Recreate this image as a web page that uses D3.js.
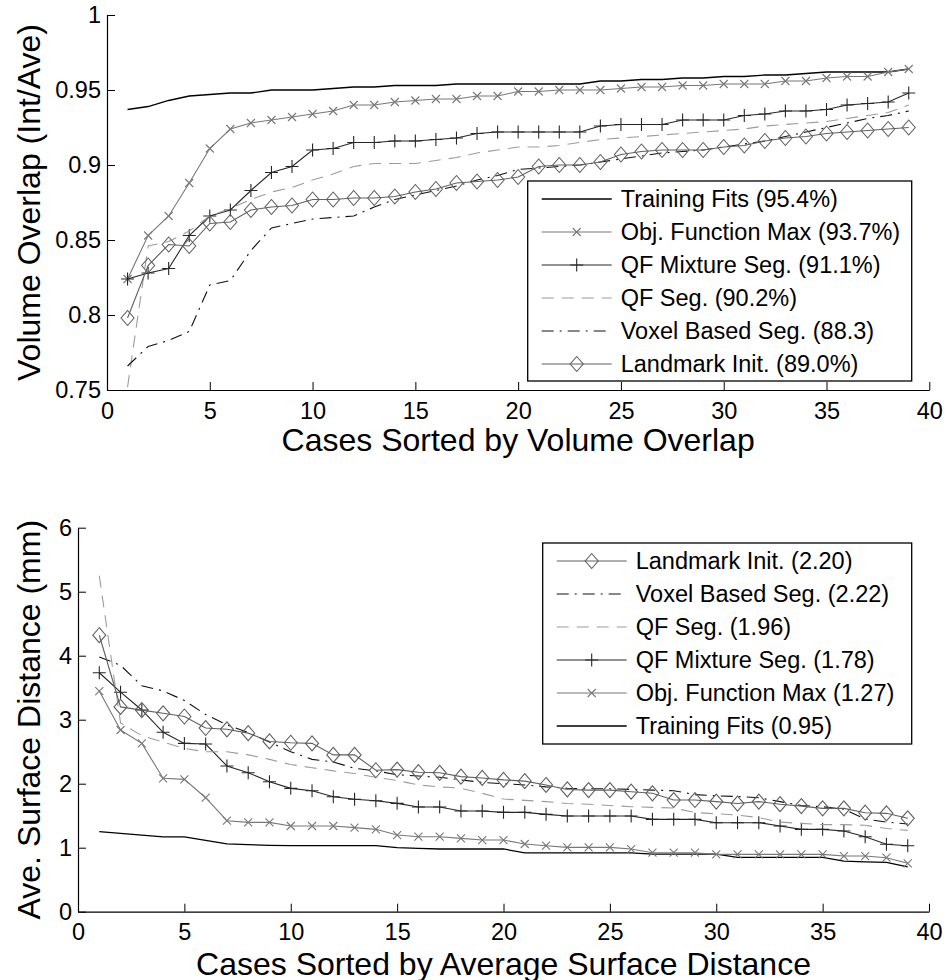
<!DOCTYPE html>
<html>
<head>
<meta charset="utf-8">
<script src="https://cdn.jsdelivr.net/npm/d3@7"></script>
<style>
  body { margin: 0; background: #fff; }
  text { font-family: "Liberation Sans", Arial, sans-serif; fill: #000; }
</style>
</head>
<body>
<svg id="chart" width="945" height="980"></svg>
<script>
// ---- case index (x axis) ----
const caseIndex = [1,2,3,4,5,6,7,8,9,10,11,12,13,14,15,16,17,18,19,20,
  21,22,23,24,25,26,27,28,29,30,31,32,33,34,35,36,37,38,39];

// ---- volume overlap (Int/Ave), cases sorted ----
const overlapTraining = [0.937,0.939,0.943,0.946,0.947,0.948,0.948,0.950,0.950,0.950,
  0.951,0.952,0.952,0.953,0.953,0.953,0.954,0.954,0.954,0.954,
  0.954,0.954,0.954,0.956,0.956,0.957,0.957,0.958,0.958,0.959,
  0.959,0.960,0.960,0.961,0.962,0.962,0.962,0.962,0.964];
const overlapObjMax = [0.824,0.853,0.866,0.888,0.911,0.924,0.928,0.930,0.932,0.934,
  0.936,0.940,0.940,0.942,0.943,0.944,0.944,0.946,0.946,0.949,
  0.949,0.950,0.950,0.950,0.951,0.952,0.952,0.953,0.953,0.954,
  0.954,0.954,0.956,0.956,0.958,0.959,0.959,0.962,0.964];
const overlapQFMix = [0.824,0.828,0.831,0.853,0.866,0.870,0.883,0.895,0.899,0.910,
  0.911,0.915,0.915,0.916,0.916,0.917,0.918,0.921,0.922,0.922,
  0.922,0.922,0.922,0.926,0.927,0.927,0.927,0.930,0.930,0.930,
  0.933,0.934,0.936,0.936,0.937,0.940,0.941,0.942,0.948];
const overlapQFSeg = [0.752,0.846,0.849,0.856,0.866,0.871,0.877,0.882,0.885,0.890,
  0.894,0.899,0.901,0.901,0.901,0.903,0.905,0.908,0.910,0.912,
  0.912,0.913,0.915,0.917,0.918,0.919,0.920,0.921,0.922,0.923,
  0.924,0.926,0.927,0.928,0.929,0.931,0.933,0.935,0.940];
const overlapVoxel = [0.766,0.779,0.783,0.789,0.820,0.823,0.843,0.858,0.861,0.864,
  0.865,0.866,0.872,0.877,0.880,0.883,0.886,0.890,0.893,0.897,
  0.898,0.899,0.900,0.902,0.904,0.906,0.908,0.909,0.910,0.912,
  0.914,0.916,0.919,0.922,0.925,0.928,0.931,0.933,0.936];
const overlapLandmark = [0.798,0.833,0.847,0.846,0.861,0.862,0.870,0.872,0.873,0.877,
  0.877,0.878,0.878,0.879,0.882,0.884,0.888,0.889,0.890,0.892,
  0.899,0.900,0.900,0.902,0.907,0.909,0.910,0.910,0.910,0.912,
  0.913,0.916,0.918,0.919,0.921,0.922,0.923,0.924,0.925];

// ---- average surface distance (mm), cases sorted ----
const distLandmark = [4.32,3.20,3.15,3.10,3.05,2.87,2.85,2.79,2.66,2.64,
  2.63,2.45,2.45,2.21,2.22,2.18,2.17,2.11,2.09,2.06,
  2.04,1.98,1.91,1.90,1.90,1.875,1.85,1.745,1.745,1.72,
  1.69,1.72,1.68,1.65,1.615,1.615,1.547,1.537,1.459];
const distVoxel = [3.98,3.85,3.53,3.45,3.30,3.08,2.92,2.80,2.65,2.50,
  2.38,2.34,2.24,2.20,2.14,2.12,2.10,2.06,2.02,2.00,
  1.98,1.95,1.93,1.92,1.92,1.91,1.90,1.89,1.83,1.81,
  1.80,1.78,1.72,1.66,1.64,1.60,1.45,1.40,1.37];
const distQFSeg = [5.25,2.95,2.75,2.65,2.55,2.50,2.50,2.45,2.38,2.30,
  2.25,2.20,2.16,2.10,2.05,1.98,1.95,1.93,1.85,1.76,
  1.74,1.72,1.69,1.68,1.66,1.64,1.63,1.62,1.55,1.53,
  1.51,1.47,1.40,1.38,1.36,1.36,1.35,1.30,1.27];
const distQFMix = [3.734,3.43,3.152,2.803,2.63,2.62,2.277,2.172,2.031,1.927,
  1.891,1.797,1.756,1.734,1.693,1.636,1.636,1.573,1.573,1.552,
  1.552,1.521,1.495,1.495,1.495,1.495,1.443,1.443,1.443,1.391,
  1.391,1.391,1.339,1.287,1.287,1.261,1.172,1.053,1.031];
const distObjMax = [3.448,2.839,2.63,2.084,2.068,1.781,1.422,1.396,1.396,1.339,
  1.339,1.339,1.313,1.287,1.198,1.172,1.172,1.146,1.12,1.12,
  1.058,1.031,1.005,1.005,1.005,0.979,0.922,0.922,0.922,0.896,
  0.896,0.896,0.896,0.896,0.896,0.870,0.870,0.844,0.756];
const distTraining = [1.25,1.225,1.198,1.17,1.17,1.115,1.06,1.047,1.036,1.031,
  1.031,1.031,1.031,1.031,1.00,0.99,0.98,0.98,0.98,0.98,
  0.92,0.92,0.92,0.92,0.92,0.92,0.90,0.90,0.90,0.90,
  0.85,0.85,0.85,0.85,0.85,0.79,0.78,0.77,0.70];

// ---- legend labels ----
const overlapLabels = ["Training Fits (95.4%)", "Obj. Function Max (93.7%)",
  "QF Mixture Seg. (91.1%)", "QF Seg. (90.2%)", "Voxel Based Seg. (88.3)",
  "Landmark Init. (89.0%)"];
const distLabels = ["Landmark Init. (2.20)", "Voxel Based Seg. (2.22)",
  "QF Seg. (1.96)", "QF Mixture Seg. (1.78)", "Obj. Function Max (1.27)",
  "Training Fits (0.95)"];

// ---- tick values ----
const caseTicks = [0,5,10,15,20,25,30,35,40];
const overlapTicks = [0.75,0.8,0.85,0.9,0.95,1];
const distTicks = [0,1,2,3,4,5,6];

// ---- line / marker styles per method ----
const styles = {
  training: { color: "#000",    width: 1.3, dash: null,       marker: null },
  objMax:   { color: "#787878", width: 1.1, dash: null,       marker: "x" },
  qfMix:    { color: "#262626", width: 1.1, dash: null,       marker: "+" },
  qfSeg:    { color: "#9c9c9c", width: 1.1, dash: "12,8",     marker: null },
  voxel:    { color: "#111",    width: 1.1, dash: "12,6,2,6", marker: null },
  landmark: { color: "#606060", width: 1.1, dash: null,       marker: "diamond" }
};

const markerPath = {
  "x": "M-4,-4L4,4M-4,4L4,-4",
  "+": "M-6.5,0H6.5M0,-6.5V6.5",
  "diamond": "M0,-7.5L6.5,0L0,7.5L-6.5,0Z"
};

const svg = d3.select("#chart");
const FONT = 23.5;
const TITLE_FONT = 32;

function drawPanel(p) {
  const x = d3.scaleLinear().domain([0, 40]).range([p.left, p.right]);
  const y = d3.scaleLinear().domain(p.yDomain).range([p.bottom, p.top]);

  const g = svg.append("g");

  g.append("clipPath").attr("id", p.id + "-clip")
    .append("rect")
    .attr("x", p.left).attr("y", p.top - 2)
    .attr("width", p.right - p.left + 2).attr("height", p.bottom - p.top + 2);

  // axes (box off, ticks pointing inward)
  const xAxis = d3.axisBottom(x).tickValues(caseTicks)
    .tickSizeInner(-8).tickSizeOuter(0).tickPadding(12)
    .tickFormat(d3.format("d"));
  const yAxis = d3.axisLeft(y).tickValues(p.yTicks)
    .tickSizeInner(-8).tickSizeOuter(0).tickPadding(6)
    .tickFormat(d => String(d));

  const gx = g.append("g").attr("transform", `translate(0,${p.bottom})`).call(xAxis);
  const gy = g.append("g").attr("transform", `translate(${p.left},0)`).call(yAxis);
  [gx, gy].forEach(a => {
    a.attr("font-family", null).attr("font-size", null);
    a.selectAll("text").style("font-size", FONT + "px");
    a.selectAll("line").attr("stroke", "#000").attr("stroke-width", 1);
    a.select(".domain").attr("stroke", "#000").attr("stroke-width", 1.2);
  });

  // axis titles
  g.append("text")
    .attr("x", (p.left + p.right) / 2).attr("y", p.xTitleY)
    .attr("text-anchor", "middle").style("font-size", TITLE_FONT + "px")
    .text(p.xTitle);
  g.append("text")
    .attr("transform", `translate(40,${(p.top + p.bottom) / 2}) rotate(-90)`)
    .attr("text-anchor", "middle").style("font-size", TITLE_FONT + "px")
    .text(p.yTitle);

  // series
  const plot = g.append("g").attr("clip-path", `url(#${p.id}-clip)`);
  const line = d3.line().x((d, i) => x(caseIndex[i])).y(d => y(d));

  p.series.forEach(s => {
    const st = styles[s.key];
    plot.append("path")
      .datum(s.values)
      .attr("d", line)
      .attr("fill", "none")
      .attr("stroke", st.color)
      .attr("stroke-width", st.width)
      .attr("stroke-dasharray", st.dash);
    if (st.marker) {
      plot.append("g").selectAll("path")
        .data(s.values)
        .join("path")
        .attr("transform", (d, i) => `translate(${x(caseIndex[i])},${y(d)})`)
        .attr("d", markerPath[st.marker])
        .attr("fill", "none")
        .attr("stroke", st.color)
        .attr("stroke-width", 1.1);
    }
  });

  // legend
  const L = p.legend;
  const lg = g.append("g");
  lg.append("rect")
    .attr("x", L.left).attr("y", L.top)
    .attr("width", L.right - L.left).attr("height", L.bottom - L.top)
    .attr("fill", "#fff").attr("stroke", "#000").attr("stroke-width", 1.3);
  L.entries.forEach((e, i) => {
    const st = styles[e.key];
    const cy = L.firstRow + i * L.rowStep;
    lg.append("line")
      .attr("x1", L.left + 14).attr("x2", L.left + 84)
      .attr("y1", cy).attr("y2", cy)
      .attr("stroke", st.color).attr("stroke-width", st.width)
      .attr("stroke-dasharray", st.dash);
    if (st.marker) {
      lg.append("path")
        .attr("transform", `translate(${L.left + 49},${cy})`)
        .attr("d", markerPath[st.marker])
        .attr("fill", "none").attr("stroke", st.color).attr("stroke-width", 1.1);
    }
    lg.append("text")
      .attr("x", L.left + 93).attr("y", cy).attr("dy", "0.36em")
      .style("font-size", FONT + "px")
      .text(e.label);
  });
}

const overlapSeries = [
  { key: "training", values: overlapTraining },
  { key: "objMax",   values: overlapObjMax },
  { key: "qfMix",    values: overlapQFMix },
  { key: "qfSeg",    values: overlapQFSeg },
  { key: "voxel",    values: overlapVoxel },
  { key: "landmark", values: overlapLandmark }
];

drawPanel({
  id: "overlap",
  left: 107, right: 929.3, top: 15, bottom: 390,
  yDomain: [0.75, 1], yTicks: overlapTicks,
  xTitle: "Cases Sorted by Volume Overlap", xTitleY: 451,
  yTitle: "Volume Overlap (Int/Ave)",
  series: overlapSeries,
  legend: {
    left: 527.7, right: 911.7, top: 181, bottom: 381,
    firstRow: 199, rowStep: 33,
    entries: overlapSeries.map((s, i) => ({ key: s.key, label: overlapLabels[i] }))
  }
});

const distSeries = [
  { key: "training", values: distTraining },
  { key: "objMax",   values: distObjMax },
  { key: "qfMix",    values: distQFMix },
  { key: "qfSeg",    values: distQFSeg },
  { key: "voxel",    values: distVoxel },
  { key: "landmark", values: distLandmark }
];
const distLegendKeys = ["landmark", "voxel", "qfSeg", "qfMix", "objMax", "training"];

drawPanel({
  id: "dist",
  left: 78, right: 929, top: 527.7, bottom: 911.7,
  yDomain: [0, 6], yTicks: distTicks,
  xTitle: "Cases Sorted by Average Surface Distance", xTitleY: 974.5,
  yTitle: "Ave. Surface Distance (mm)",
  series: distSeries,
  legend: {
    left: 542.7, right: 911.7, top: 543, bottom: 744,
    firstRow: 561, rowStep: 33,
    entries: distLegendKeys.map((k, i) => ({ key: k, label: distLabels[i] }))
  }
});
</script>
</body>
</html>
